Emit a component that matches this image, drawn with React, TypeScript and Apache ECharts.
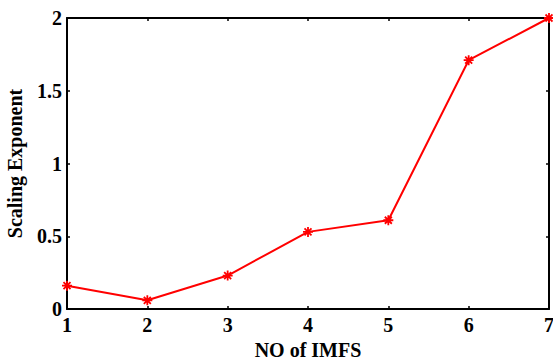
import React, { useEffect, useRef } from "react";
import * as echarts from "echarts";

const imfs: number[] = [1, 2, 3, 4, 5, 6, 7];
const scalingExponent: number[] = [0.16, 0.06, 0.23, 0.53, 0.61, 1.71, 2.0];
const yTicks: number[] = [0, 0.5, 1, 1.5, 2];

const FONT = "Liberation Serif";

export default function App() {
  const ref = useRef<HTMLDivElement>(null);
  useEffect(() => {
    if (!ref.current) return;
    const chart = echarts.init(ref.current, null, { renderer: "svg" });
    const labelStyle = { fontFamily: FONT, fontWeight: "bold" as const, fontSize: 20, color: "#000" };
    chart.setOption({
      animation: false,
      backgroundColor: "#fff",
      grid: { left: 67, right: 4, top: 18, bottom: 51, containLabel: false, outerBoundsMode: "none" },
      xAxis: [
        {
          type: "value",
          min: 1,
          max: 7,
          interval: 1,
          name: "NO of IMFS",
          nameLocation: "middle",
          nameGap: 29,
          nameTextStyle: { ...labelStyle, fontSize: 20 },
          axisLine: { onZero: false, lineStyle: { color: "#000", width: 2 } },
          axisTick: { inside: true, length: 3, lineStyle: { color: "#000", width: 1.5 } },
          axisLabel: { ...labelStyle, margin: 6, hideOverlap: false },
          splitLine: { show: false },
        },
        {
          type: "value",
          position: "top",
          min: 1,
          max: 7,
          interval: 1,
          axisLine: { onZero: false, lineStyle: { color: "#000", width: 2 } },
          axisTick: { inside: true, length: 3, lineStyle: { color: "#000", width: 1.5 } },
          axisLabel: { show: false },
          splitLine: { show: false },
        },
      ],
      yAxis: [
        {
          type: "value",
          min: 0,
          max: 2,
          interval: 0.5,
          name: "Scaling Exponent",
          nameLocation: "middle",
          nameGap: 42,
          nameTextStyle: { ...labelStyle, fontSize: 20 },
          axisLine: { onZero: false, lineStyle: { color: "#000", width: 2 } },
          axisTick: { inside: true, length: 3, lineStyle: { color: "#000", width: 1.5 } },
          axisLabel: {
            ...labelStyle,
            margin: 5,
            formatter: (v: number) => (yTicks.includes(v) ? String(v) : ""),
          },
          splitLine: { show: false },
        },
        {
          type: "value",
          position: "right",
          min: 0,
          max: 2,
          interval: 0.5,
          axisLine: { onZero: false, lineStyle: { color: "#000", width: 2 } },
          axisTick: { inside: true, length: 3, lineStyle: { color: "#000", width: 1.5 } },
          axisLabel: { show: false },
          splitLine: { show: false },
        },
      ],
      series: [
        {
          type: "line",
          data: imfs.map((x, i) => [x, scalingExponent[i]]),
          xAxisIndex: 0,
          yAxisIndex: 0,
          lineStyle: { color: "#ff0000", width: 2 },
          symbol: "path://M10,0L10,20M0,10L20,10M3,3L17,17M17,3L3,17",
          symbolSize: 10,
          showSymbol: true,
          itemStyle: { color: "#ff0000", borderColor: "#ff0000", borderWidth: 1.8 },
          clip: true,
        },
      ],
    });
    return () => chart.dispose();
  }, []);
  return <div ref={ref} style={{ width: 553, height: 360, position: "absolute", left: 0, top: 0 }} />;
}
